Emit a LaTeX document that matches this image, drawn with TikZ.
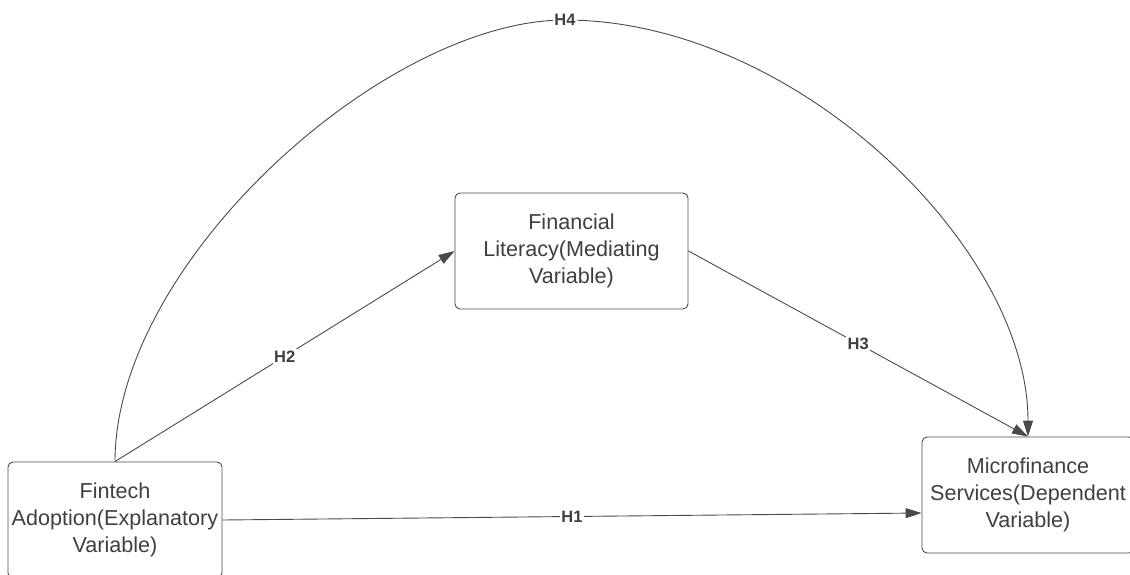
\documentclass[tikz,border=0pt]{standalone}
\usepackage{fontspec}
\setmainfont{Liberation Sans}
\usetikzlibrary{arrows.meta}

\definecolor{linegray}{HTML}{4A4A4A}
\definecolor{textgray}{HTML}{3F3F3F}

\begin{document}
\begin{tikzpicture}[x=1pt, y=-1pt,
    varbox/.style={draw=linegray, line width=0.9pt, rounded corners=5pt,
        minimum height=116pt, align=center, text=textgray,
        font=\fontsize{21.6}{27}\selectfont},
    hyp/.style={draw=linegray, line width=0.9pt,
        -{Triangle[length=16pt, width=10pt]}},
    hyplabel/.style={fill=white, inner sep=1.5pt, text=textgray,
        font=\fontsize{16.5}{19}\selectfont\bfseries}]
    % 1. Keep the frame of the reference picture
    \useasboundingbox (0,0) rectangle (1130,575);

    % 2. The three variables
    \node[varbox, minimum width=214pt] (fintech) at (115,520)
        {Fintech\\Adoption(Explanatory\\Variable)};
    \node[varbox, minimum width=233pt] (literacy) at (571.5,251)
        {Financial\\Literacy(Mediating\\Variable)};
    \node[varbox, minimum width=212pt] (micro) at (1028,495)
        {Microfinance\\Services(Dependent\\Variable)};

    % 3. Hypotheses H1 to H4
    \coordinate (arctop) at (565,20);
    \draw[hyp] (fintech.east) -- node[hyplabel] {H1} ([yshift=-18pt]micro.west);
    \draw[hyp] (fintech.north) -- node[hyplabel] {H2} (literacy.west);
    \draw[hyp] (literacy.east) -- node[hyplabel] {H3} (micro.north);
    \draw[hyp] (fintech.north) .. controls (115,262) and (385,20) .. (arctop)
        node[hyplabel] {H4}
        .. controls (795,20) and (1028,247) .. (micro.north);
\end{tikzpicture}
\end{document}
